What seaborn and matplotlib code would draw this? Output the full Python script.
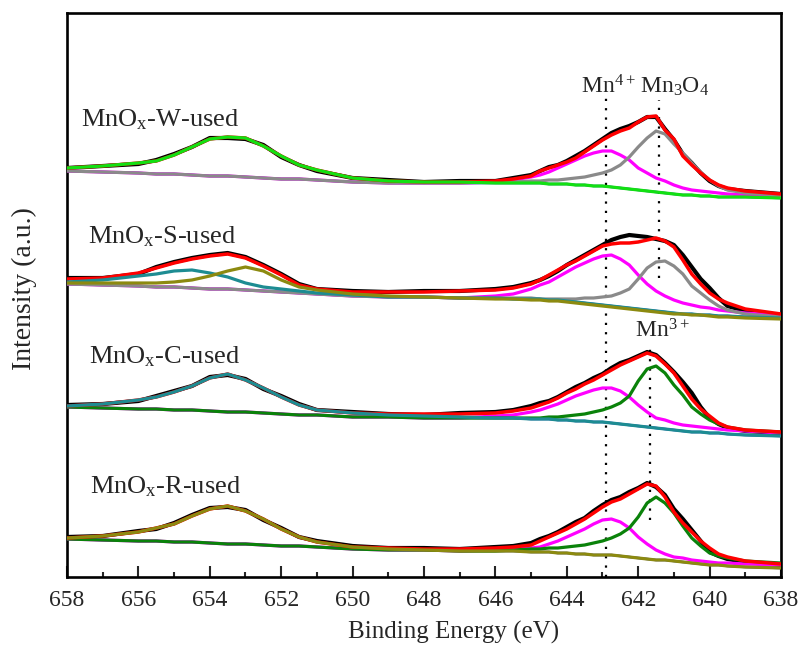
import matplotlib
matplotlib.use("Agg")
import matplotlib.pyplot as plt
from matplotlib.ticker import MultipleLocator
import seaborn as sns

# Binding energy grid (eV), shared by every curve
energy = [658, 657, 656, 655.5, 655, 654.5, 654, 653.5, 653, 652.5, 652, 651.5, 651,
          650, 649, 648, 647, 646, 645.5, 645, 644.75, 644.5, 644.25, 644, 643.75, 643.5,
          643.25, 643, 642.75, 642.5, 642.25, 642, 641.75, 641.5, 641.25, 641, 640.75,
          640.5, 640.25, 640, 639.75, 639.5, 639, 638]

# ---- MnOx-W-used (stacked intensity, a.u.) ----
w_raw = [409, 411, 413, 417, 423, 430, 439, 439, 438, 432, 420, 412, 406, 399, 397, 395, 396, 396, 399,
         402, 406, 410, 412, 416, 421, 426, 432, 438, 444, 448, 451, 455, 460, 460, 448, 437, 423, 414,
         404, 396, 391, 388, 386, 383]
w_fit = [409, 411, 414, 416, 422, 430, 438, 440, 439, 431, 421, 412, 407, 399, 396, 395, 395, 396, 398,
         401, 406, 409, 412, 415, 419, 425, 431, 437, 442, 446, 449, 455, 460, 461, 447, 438, 421, 412,
         404, 397, 392, 389, 386, 383]
w_bg = [406, 405, 404, 403, 403, 402, 401, 401, 400, 399, 398, 398, 397, 395, 394, 394, 394, 394, 394,
        394, 394, 393, 393, 393, 392, 392, 391, 391, 390, 389, 388, 387, 386, 385, 384, 383, 382, 382,
        381, 381, 380, 380, 380, 379]
w_mn4 = [406, 405, 404, 403, 403, 402, 401, 401, 400, 399, 398, 398, 397, 395, 394, 394, 394, 395, 397,
         400, 402, 405, 409, 413, 417, 421, 424, 426, 426, 422, 417, 409, 404, 399, 396, 392, 389, 387,
         386, 385, 384, 383, 382, 380]
w_mn3o4 = [406, 405, 404, 403, 403, 402, 401, 401, 400, 399, 398, 398, 397, 395, 394, 394, 394, 395, 395,
           396, 396, 397, 397, 398, 399, 400, 402, 404, 407, 412, 420, 430, 439, 446, 443, 433, 424, 414,
           405, 397, 391, 387, 384, 382]
w_2p12 = [409, 411, 414, 416, 422, 430, 438, 440, 439, 431, 421, 412, 407, 399, 396, 395, 395, 394, 394,
          394, 394, 393, 393, 393, 392, 392, 391, 391, 390, 389, 388, 387, 386, 385, 384, 383, 382, 382,
          381, 381, 380, 380, 380, 379]

# ---- MnOx-S-used ----
s_raw = [299, 299, 303, 310, 315, 319, 322, 324, 320, 312, 303, 293, 288, 286, 285, 286, 286, 288, 290,
         294, 297, 301, 306, 312, 317, 322, 327, 332, 337, 340, 342, 341, 340, 338, 336, 332, 322, 310,
         298, 289, 279, 271, 266, 262]
s_fit = [298, 299, 304, 309, 314, 318, 321, 323, 319, 311, 302, 292, 288, 285, 285, 285, 286, 287, 289,
         293, 297, 302, 307, 312, 316, 321, 326, 331, 333, 334, 334, 335, 337, 339, 336, 330, 317, 303,
         293, 284, 278, 274, 268, 263]
s_bg = [293, 292, 291, 290, 290, 289, 288, 288, 287, 286, 285, 284, 283, 281, 280, 280, 279, 279, 278,
        278, 278, 277, 277, 276, 275, 274, 273, 272, 271, 270, 269, 268, 267, 266, 265, 264, 263, 263,
        262, 262, 261, 261, 260, 259]
s_mn4 = [293, 292, 291, 290, 290, 289, 288, 288, 287, 286, 285, 284, 283, 281, 280, 280, 279, 281, 283,
         288, 292, 295, 300, 305, 310, 314, 318, 321, 322, 318, 312, 302, 293, 286, 281, 277, 274, 272,
         270, 269, 267, 266, 264, 262]
s_mn3o4 = [293, 292, 291, 290, 290, 289, 288, 288, 287, 286, 285, 284, 283, 281, 280, 280, 279, 279, 279,
           279, 278, 278, 278, 278, 278, 279, 279, 280, 281, 284, 288, 298, 309, 315, 316, 311, 303, 291,
           284, 277, 271, 267, 263, 260]
s_2p12a = [295, 297, 301, 303, 306, 307, 304, 300, 294, 290, 288, 286, 284, 282, 280, 280, 279, 279, 278,
           278, 278, 277, 277, 276, 275, 274, 273, 272, 271, 270, 269, 268, 267, 266, 265, 264, 263, 263,
           262, 262, 261, 261, 260, 259]
s_2p12b = [294, 294, 294, 294, 295, 297, 301, 306, 310, 306, 297, 290, 287, 283, 281, 280, 279, 278, 278,
           277, 277, 276, 276, 275, 274, 273, 272, 271, 270, 269, 268, 267, 266, 265, 264, 263, 263, 262,
           262, 261, 260, 260, 259, 258]

# ---- MnOx-C-used ----
c_raw = [172, 173, 176, 181, 186, 191, 200, 202, 198, 188, 181, 173, 167, 165, 163, 162, 164, 165, 167,
         171, 174, 176, 180, 185, 190, 194, 199, 203, 209, 214, 217, 221, 225, 222, 214, 205, 195, 184,
         170, 159, 153, 149, 146, 144]
c_fit = [171, 173, 177, 180, 185, 191, 199, 203, 197, 189, 180, 172, 167, 164, 163, 163, 163, 164, 166,
         169, 172, 175, 179, 184, 188, 193, 197, 202, 207, 212, 216, 220, 224, 221, 213, 204, 191, 178,
         168, 161, 154, 150, 147, 145]
c_bg = [170, 169, 168, 168, 167, 167, 166, 165, 165, 164, 163, 162, 162, 160, 160, 159, 159, 159, 159,
        158, 158, 158, 157, 157, 156, 156, 155, 155, 154, 153, 152, 151, 150, 149, 148, 147, 146, 145,
        145, 144, 144, 143, 142, 141]
c_mn4 = [170, 169, 168, 168, 167, 167, 166, 165, 165, 164, 163, 162, 162, 160, 160, 159, 159, 161, 162,
         165, 167, 170, 173, 177, 181, 184, 187, 189, 189, 186, 180, 172, 165, 159, 157, 154, 152, 151,
         150, 149, 148, 147, 146, 144]
c_mn3 = [170, 169, 168, 168, 167, 167, 166, 165, 165, 164, 163, 162, 162, 160, 160, 159, 159, 159, 159,
         159, 159, 160, 160, 161, 162, 163, 165, 167, 170, 174, 181, 196, 208, 211, 204, 192, 182, 170,
         163, 157, 153, 150, 147, 145]
c_2p12 = [171, 173, 177, 180, 185, 191, 199, 203, 197, 189, 180, 172, 167, 164, 162, 161, 160, 159, 159,
          158, 158, 158, 157, 157, 156, 156, 155, 155, 154, 153, 152, 151, 150, 149, 148, 147, 146, 145,
          145, 144, 144, 143, 142, 141]

# ---- MnOx-R-used ----
r_raw = [40, 41, 46, 48, 54, 62, 69, 70, 67, 57, 49, 40, 36, 31, 29, 29, 28, 30, 31,
         34, 38, 41, 45, 50, 55, 59, 66, 72, 77, 80, 85, 89, 94, 90, 82, 68, 58, 47,
         36, 25, 21, 18, 15, 12]
r_fit = [39, 41, 45, 49, 53, 61, 68, 71, 66, 58, 48, 40, 35, 30, 29, 28, 28, 29, 30,
         32, 36, 40, 44, 48, 53, 58, 64, 70, 75, 78, 83, 88, 93, 91, 80, 65, 54, 45,
         36, 29, 23, 20, 16, 13]
r_bg = [38, 37, 36, 36, 35, 35, 34, 33, 33, 32, 31, 31, 30, 28, 27, 27, 26, 26, 26,
        25, 25, 25, 24, 24, 23, 23, 22, 22, 22, 21, 20, 19, 18, 17, 17, 16, 15, 14,
        13, 12, 12, 11, 10, 9]
r_mn4 = [38, 37, 36, 36, 35, 35, 34, 33, 33, 32, 31, 31, 30, 28, 27, 27, 26, 27, 28,
         29, 30, 33, 36, 40, 44, 48, 53, 57, 58, 55, 49, 40, 33, 27, 23, 20, 19, 17,
         16, 15, 14, 14, 13, 12]
r_mn3 = [38, 37, 36, 36, 35, 35, 34, 33, 33, 32, 31, 31, 30, 28, 27, 27, 26, 26, 27,
         28, 28, 29, 29, 30, 31, 32, 34, 36, 39, 43, 49, 60, 74, 80, 74, 64, 51, 39,
         31, 24, 21, 19, 16, 14]
r_2p12 = [39, 41, 45, 49, 53, 61, 68, 71, 66, 58, 48, 40, 35, 30, 28, 27, 26, 26, 26,
          25, 25, 25, 24, 24, 23, 23, 22, 22, 22, 21, 20, 19, 18, 17, 17, 16, 15, 14,
          13, 12, 12, 11, 10, 9]

sample_names = ["MnO$_x$-W-used", "MnO$_x$-S-used", "MnO$_x$-C-used", "MnO$_x$-R-used"]

# Reference peak positions (eV)
mn4_pos, mn3o4_pos, mn3_pos = 642.9, 641.42, 641.67

RED, BLACK, BLUE = "#ff0000", "#000000", "#2020d0"
MAGENTA, GRAY = "#ff00ff", "#8a8a8a"
LIME, DKGREEN = "#12e012", "#0a820a"
TEAL, OLIVE = "#1d8c92", "#8c8a10"

# (bg, raw, fit, 2p3/2 components, 2p1/2 components)
spectra = [
    (w_bg, w_raw, w_fit, [(w_mn4, MAGENTA), (w_mn3o4, GRAY)], [(w_2p12, LIME)]),
    (s_bg, s_raw, s_fit, [(s_mn4, MAGENTA), (s_mn3o4, GRAY)], [(s_2p12a, TEAL), (s_2p12b, OLIVE)]),
    (c_bg, c_raw, c_fit, [(c_mn4, MAGENTA), (c_mn3, DKGREEN)], [(c_2p12, TEAL)]),
    (r_bg, r_raw, r_fit, [(r_mn4, MAGENTA), (r_mn3, DKGREEN)], [(r_2p12, OLIVE)]),
]
label_anchor = [(657.6, 451), (657.4, 334), (657.38, 214), (657.36, 84)]

sns.set_theme(style="ticks")
plt.rcParams["font.family"] = ["Liberation Serif", "DejaVu Serif"]
plt.rcParams["mathtext.default"] = "regular"

fig = plt.figure(figsize=(8.05, 6.48), dpi=100)
ax = fig.add_axes([67 / 805, 71 / 648, 714 / 805, 564 / 648])


def draw(values, color, lw, z):
    sns.lineplot(x=energy, y=values, ax=ax, color=color, linewidth=lw, sort=False,
                 estimator=None, legend=False, zorder=z,
                 solid_joinstyle="round", solid_capstyle="round")


for bg, raw, fit, comps32, comps12 in spectra:
    draw(bg, BLUE, 1.8, 2)
    draw(raw, BLACK, 3.0, 3)
    for vals, col in comps32:
        draw(vals, col, 2.3, 4)
    draw(fit, RED, 2.5, 5)
    for vals, col in comps12:
        draw(vals, col, 2.3, 6)

# dotted guide lines at the Mn 2p3/2 component positions
dot = dict(color="black", lw=1.6, linestyle=(0, (1, 3.2)), zorder=1)
ax.plot([mn4_pos, mn4_pos], [0, 480], **dot)
ax.plot([mn3o4_pos, mn3o4_pos], [299, 477], **dot)
ax.plot([mn3_pos, mn3_pos], [57, 234], **dot)

for name, (ex, iy) in zip(sample_names, label_anchor):
    ax.text(ex, iy, name, fontsize=19, ha="left", va="baseline")

ax.text(643.6, 484, "Mn$^{4+}$", fontsize=17, ha="left", va="baseline")
ax.text(641.95, 484, "Mn$_3$O$_4$", fontsize=17, ha="left", va="baseline")
ax.text(642.09, 239, "Mn$^{3+}$", fontsize=17, ha="left", va="baseline")

ax.set_xlim(658, 638)
ax.set_ylim(0, 564)
ax.set_yticks([])
ax.xaxis.set_major_locator(MultipleLocator(2))
ax.xaxis.set_minor_locator(MultipleLocator(1))
ax.tick_params(axis="x", which="major", direction="in", length=8, width=1.5,
               labelsize=17, pad=9, top=False, bottom=True)
ax.tick_params(axis="x", which="minor", direction="in", length=3.8, width=1.5,
               top=False, bottom=True)
for sp in ax.spines.values():
    sp.set_visible(True)
    sp.set_linewidth(1.9)
    sp.set_color("black")

ax.set_xlabel("Binding Energy (eV)", fontsize=18)
ax.xaxis.set_label_coords(0.542, -0.077)
ax.set_ylabel("Intensity (a.u.)", fontsize=20)
ax.yaxis.set_label_coords(-0.042, 0.512)

fig.savefig("out.png", dpi=100)
